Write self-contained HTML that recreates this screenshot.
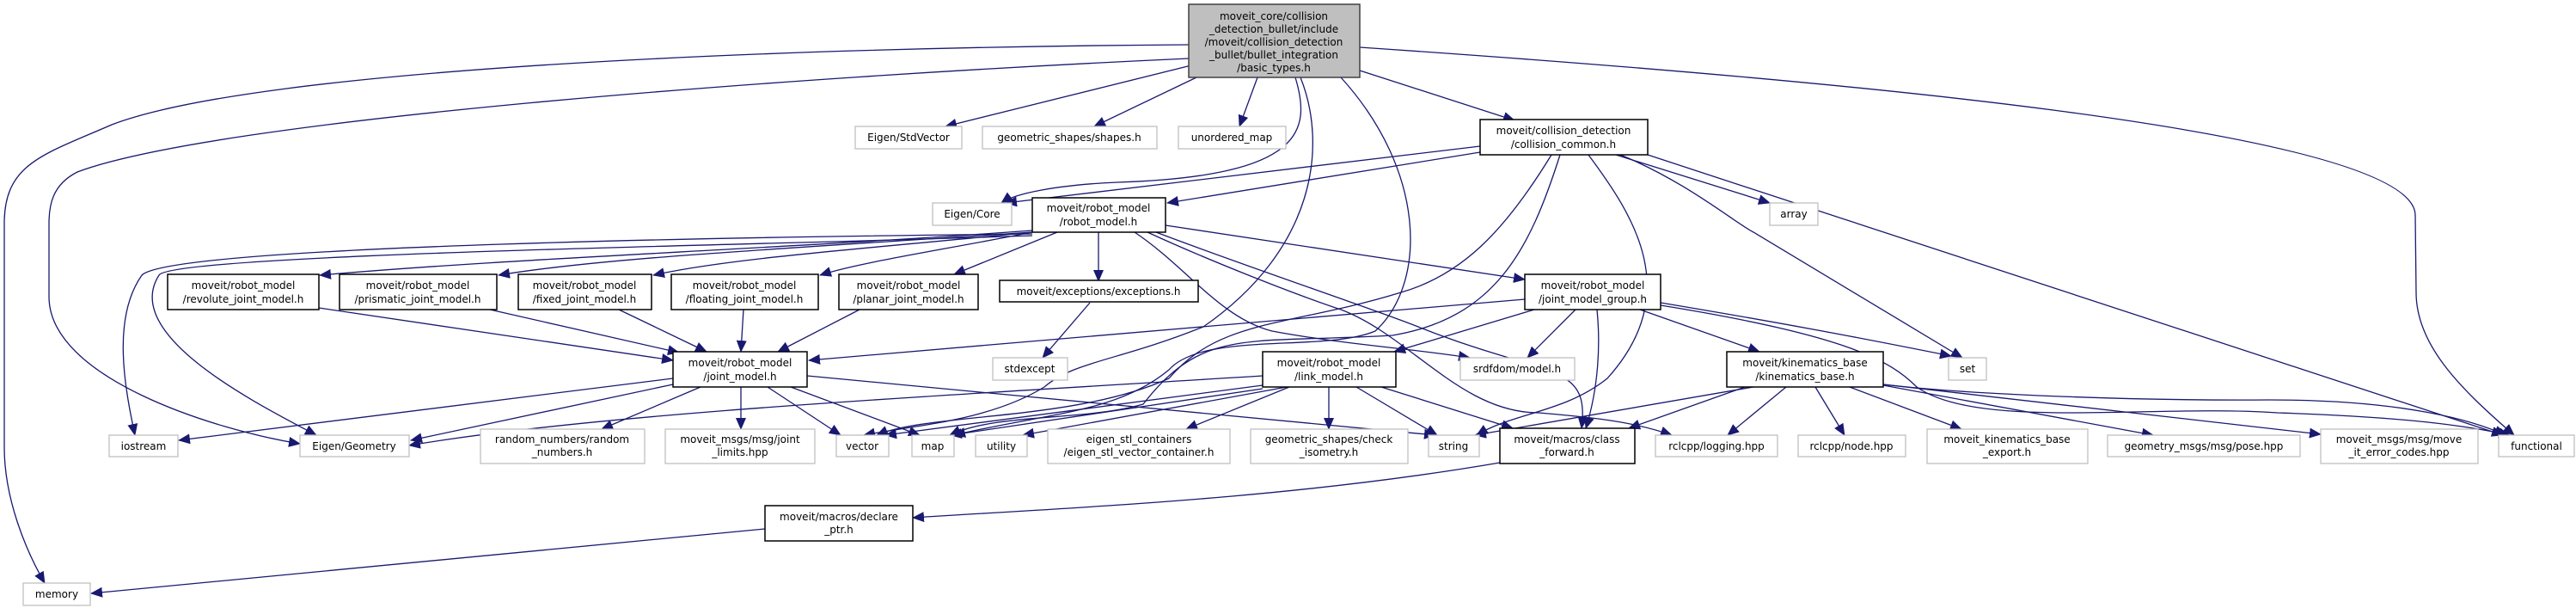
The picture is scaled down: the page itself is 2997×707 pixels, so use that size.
<!DOCTYPE html>
<html><head><meta charset="utf-8"><style>
html,body{margin:0;padding:0;background:#fff;}
svg{display:block;}
text{font-family:"DejaVu Sans","Liberation Sans",sans-serif;font-size:12px;fill:#000;}
.e{fill:none;stroke:#191970;stroke-width:1.3;marker-end:url(#a);}
.g{fill:#fff;stroke:#bfbfbf;stroke-width:1.3;}
.k{fill:#fff;stroke:#000;stroke-width:1.5;}
</style></head><body>
<svg width="2997" height="707" viewBox="0 0 2997 707" xmlns="http://www.w3.org/2000/svg">
<defs><marker id="a" markerUnits="userSpaceOnUse" markerWidth="14" markerHeight="12" refX="13" refY="6" orient="auto"><polygon points="0,0 14,6 0,12" fill="#191970"/></marker></defs>
<g text-anchor="middle">
<path class="e" d="M1383,52 C900,55 300,80 130,145 C50,180 5,190 5,260 L5,520 C5,580 30,640 52,678"/>
<path class="e" d="M1383,68 C900,90 250,140 90,200 C60,215 57,240 57,260 L57,345 C57,440 250,500 349,516"/>
<path class="e" d="M1390,75 L1100,147"/>
<path class="e" d="M1392,90 L1273,147"/>
<path class="e" d="M1463,90 L1442,147"/>
<path class="e" d="M1582,82 L1762,140"/>
<path class="e" d="M1582,55 C2100,90 2808,150 2810,250 L2811,340 C2811,400 2860,450 2925,506"/>
<path class="e" d="M1507,90 C1525,150 1520,205 1300,212 C1230,215 1180,225 1165,236"/>
<path class="e" d="M1513,90 C1545,170 1530,290 1400,380 C1300,420 1250,420 1215,450 C1150,490 1060,495 1005,506"/>
<path class="e" d="M1560,90 C1660,200 1660,330 1600,385 C1540,410 1400,385 1360,430 C1300,480 1220,480 1110,506"/>
<path class="e" d="M1722,170 L1170,236"/>
<path class="e" d="M1722,177 L1358,236"/>
<path class="e" d="M1880,180 L2059,236"/>
<path class="e" d="M1885,180 C1960,210 2020,260 2040,270 L2283,416"/>
<path class="e" d="M1917,180 L2912,506"/>
<path class="e" d="M1805,180 C1750,270 1700,320 1630,340 C1500,380 1420,370 1360,440 C1250,490 1080,480 1020,506"/>
<path class="e" d="M1815,180 C1780,290 1740,370 1620,390 C1450,400 1400,380 1330,470 C1260,490 1160,480 1105,506"/>
<path class="e" d="M1848,180 C1900,250 1960,340 1870,440 C1820,480 1760,480 1718,506"/>
<path class="e" d="M1201,268 C900,290 600,300 372,320"/>
<path class="e" d="M1201,270 C900,290 700,300 580,320"/>
<path class="e" d="M1201,270 C1000,290 850,300 760,320"/>
<path class="e" d="M1201,270 C1100,290 1000,305 954,320"/>
<path class="e" d="M1230,270 L1110,319"/>
<path class="e" d="M1278,270 L1278,327"/>
<path class="e" d="M1356,262 L1774,325"/>
<path class="e" d="M1201,272 C900,275 200,285 165,320 C130,370 145,450 157,506"/>
<path class="e" d="M1201,274 C900,285 200,295 185,320 C140,390 300,470 368,506"/>
<path class="e" d="M1320,270 C1380,310 1420,370 1480,385 C1560,400 1640,405 1710,416"/>
<path class="e" d="M1335,270 C1400,300 1500,340 1560,360 C1640,390 1700,480 1790,480 C1850,485 1900,490 1945,506"/>
<path class="e" d="M1345,270 C1450,310 1600,360 1650,380 C1800,440 1850,420 1840,498"/>
<path class="e" d="M1268,352 L1213,416"/>
<path class="e" d="M371,358 L783,419"/>
<path class="e" d="M570,360 L790,410"/>
<path class="e" d="M720,360 L822,409"/>
<path class="e" d="M865,360 L862,409"/>
<path class="e" d="M1000,360 L905,409"/>
<path class="e" d="M1774,348 L941,419"/>
<path class="e" d="M1785,360 L1622,409"/>
<path class="e" d="M1833,360 L1777,416"/>
<path class="e" d="M1858,360 C1862,400 1860,450 1845,498"/>
<path class="e" d="M1908,360 L2047,409"/>
<path class="e" d="M1932,352 C2100,380 2200,400 2270,414"/>
<path class="e" d="M1932,355 C2150,390 2200,420 2230,450 C2300,500 2500,470 2650,480 C2800,485 2870,495 2920,506"/>
<path class="e" d="M783,440 L208,512"/>
<path class="e" d="M783,447 L478,512"/>
<path class="e" d="M815,450 L700,499"/>
<path class="e" d="M862,450 L862,499"/>
<path class="e" d="M893,450 L978,506"/>
<path class="e" d="M920,450 L1070,506"/>
<path class="e" d="M939,437 L1670,506"/>
<path class="e" d="M1469,437 C1100,460 700,480 476,518"/>
<path class="e" d="M1469,448 L1030,506"/>
<path class="e" d="M1469,452 L1106,506"/>
<path class="e" d="M1497,450 L1190,506"/>
<path class="e" d="M1500,450 L1380,499"/>
<path class="e" d="M1546,450 L1546,499"/>
<path class="e" d="M1578,450 L1672,506"/>
<path class="e" d="M1607,450 L1760,498"/>
<path class="e" d="M2040,450 L1716,506"/>
<path class="e" d="M2030,450 L1895,498"/>
<path class="e" d="M2078,450 L2010,506"/>
<path class="e" d="M2112,450 L2146,506"/>
<path class="e" d="M2152,450 L2282,499"/>
<path class="e" d="M2191,448 L2505,506"/>
<path class="e" d="M2191,447 L2700,505"/>
<path class="e" d="M2191,447 C2300,460 2500,466 2640,465 C2800,465 2880,490 2915,506"/>
<path class="e" d="M1745,538 C1500,580 1250,590 1062,602"/>
<path class="e" d="M890,615 L106,690"/>

<rect x="1383" y="5" width="199" height="85" fill="#bfbfbf" stroke="#404040" stroke-width="1.5"/>
<text x="1482" y="23">moveit_core/collision</text>
<text x="1482" y="38">_detection_bullet/include</text>
<text x="1482" y="53">/moveit/collision_detection</text>
<text x="1482" y="68">_bullet/bullet_integration</text>
<text x="1482" y="83">/basic_types.h</text>

<rect class="g" x="995" y="147" width="124" height="26"/><text x="1057" y="164">Eigen/StdVector</text>
<rect class="g" x="1143" y="147" width="203" height="26"/><text x="1244" y="164">geometric_shapes/shapes.h</text>
<rect class="g" x="1371" y="147" width="125" height="26"/><text x="1433" y="164">unordered_map</text>
<rect class="k" x="1722" y="139" width="195" height="41"/><text x="1819" y="156">moveit/collision_detection</text><text x="1819" y="172">/collision_common.h</text>

<rect class="g" x="1085" y="236" width="92" height="26"/><text x="1131" y="253">Eigen/Core</text>
<rect class="k" x="1201" y="230" width="155" height="40"/><text x="1278" y="246">moveit/robot_model</text><text x="1278" y="262">/robot_model.h</text>
<rect class="g" x="2059" y="236" width="56" height="26"/><text x="2087" y="253">array</text>

<rect class="k" x="195" y="319" width="176" height="41"/><text x="283" y="336">moveit/robot_model</text><text x="283" y="352">/revolute_joint_model.h</text>
<rect class="k" x="395" y="319" width="183" height="41"/><text x="486" y="336">moveit/robot_model</text><text x="486" y="352">/prismatic_joint_model.h</text>
<rect class="k" x="603" y="319" width="155" height="41"/><text x="680" y="336">moveit/robot_model</text><text x="680" y="352">/fixed_joint_model.h</text>
<rect class="k" x="781" y="319" width="171" height="41"/><text x="866" y="336">moveit/robot_model</text><text x="866" y="352">/floating_joint_model.h</text>
<rect class="k" x="976" y="319" width="162" height="41"/><text x="1057" y="336">moveit/robot_model</text><text x="1057" y="352">/planar_joint_model.h</text>
<rect class="k" x="1163" y="326" width="231" height="25"/><text x="1278" y="343">moveit/exceptions/exceptions.h</text>
<rect class="k" x="1774" y="319" width="158" height="41"/><text x="1853" y="336">moveit/robot_model</text><text x="1853" y="352">/joint_model_group.h</text>

<rect class="g" x="1155" y="416" width="87" height="26"/><text x="1198" y="433">stdexcept</text>
<rect class="k" x="783" y="409" width="156" height="41"/><text x="861" y="426">moveit/robot_model</text><text x="861" y="442">/joint_model.h</text>
<rect class="k" x="1469" y="409" width="155" height="41"/><text x="1546" y="426">moveit/robot_model</text><text x="1546" y="442">/link_model.h</text>
<rect class="g" x="1699" y="416" width="133" height="26"/><text x="1765" y="433">srdfdom/model.h</text>
<rect class="k" x="2009" y="409" width="182" height="41"/><text x="2100" y="426">moveit/kinematics_base</text><text x="2100" y="442">/kinematics_base.h</text>
<rect class="g" x="2267" y="416" width="44" height="26"/><text x="2289" y="433">set</text>

<rect class="g" x="127" y="506" width="80" height="25"/><text x="167" y="523">iostream</text>
<rect class="g" x="349" y="506" width="127" height="25"/><text x="412" y="523">Eigen/Geometry</text>
<rect class="g" x="559" y="499" width="191" height="40"/><text x="654" y="515">random_numbers/random</text><text x="654" y="530">_numbers.h</text>
<rect class="g" x="774" y="499" width="174" height="40"/><text x="861" y="515">moveit_msgs/msg/joint</text><text x="861" y="530">_limits.hpp</text>
<rect class="g" x="973" y="506" width="61" height="25"/><text x="1003" y="523">vector</text>
<rect class="g" x="1061" y="506" width="49" height="25"/><text x="1085" y="523">map</text>
<rect class="g" x="1135" y="506" width="60" height="25"/><text x="1165" y="523">utility</text>
<rect class="g" x="1219" y="499" width="212" height="40"/><text x="1325" y="515">eigen_stl_containers</text><text x="1325" y="530">/eigen_stl_vector_container.h</text>
<rect class="g" x="1455" y="499" width="183" height="40"/><text x="1546" y="515">geometric_shapes/check</text><text x="1546" y="530">_isometry.h</text>
<rect class="g" x="1662" y="506" width="59" height="25"/><text x="1691" y="523">string</text>
<rect class="k" x="1745" y="498" width="157" height="41"/><text x="1823" y="515">moveit/macros/class</text><text x="1823" y="530">_forward.h</text>
<rect class="g" x="1926" y="506" width="142" height="25"/><text x="1997" y="523">rclcpp/logging.hpp</text>
<rect class="g" x="2092" y="506" width="125" height="25"/><text x="2154" y="523">rclcpp/node.hpp</text>
<rect class="g" x="2242" y="499" width="187" height="40"/><text x="2335" y="515">moveit_kinematics_base</text><text x="2335" y="530">_export.h</text>
<rect class="g" x="2452" y="506" width="224" height="25"/><text x="2564" y="523">geometry_msgs/msg/pose.hpp</text>
<rect class="g" x="2700" y="499" width="183" height="40"/><text x="2791" y="515">moveit_msgs/msg/move</text><text x="2791" y="530">_it_error_codes.hpp</text>
<rect class="g" x="2907" y="506" width="88" height="25"/><text x="2951" y="523">functional</text>

<rect class="k" x="890" y="588" width="172" height="41"/><text x="976" y="605">moveit/macros/declare</text><text x="976" y="620">_ptr.h</text>
<rect class="g" x="27" y="678" width="78" height="26"/><text x="66" y="695">memory</text>
</g>
</svg>
</body></html>
